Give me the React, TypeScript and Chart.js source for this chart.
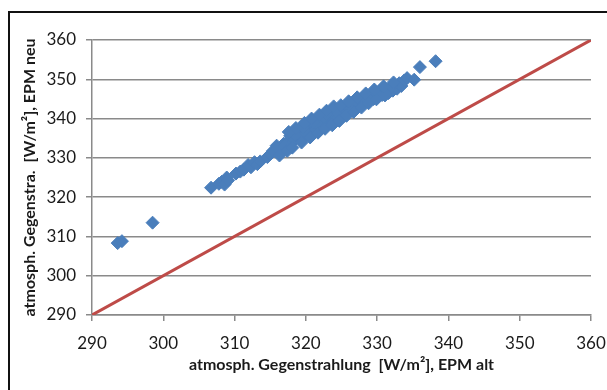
import React, { useEffect, useRef } from "react";
import { Chart, registerables } from "chart.js";

Chart.register(...registerables);

// EPM alt (x) and EPM neu (y) – atmospheric counter radiation [W/m²]
const epmAlt: number[] = [
  293.6, 294.2, 298.5,
  306.7, 307.8, 308.2, 308.6, 308.9, 309.1,
  310.2, 310.8, 311.3, 311.9, 312.3, 312.8, 313.2, 313.6,
  314.6, 315.0, 315.4, 315.9, 316.2, 316.5, 316.9, 317.2, 317.5, 317.8,
  318.0, 318.2, 318.4, 318.7, 318.9, 319.1, 319.3, 319.5, 319.7, 319.9,
  320.1, 320.3, 320.5, 320.7, 320.9, 321.0, 321.2, 321.4, 321.6, 321.8,
  322.0, 322.2, 322.4, 322.6, 322.8, 323.0, 323.2, 323.4, 323.6, 323.8,
  324.0, 324.2, 324.4, 324.6, 324.8, 325.0, 325.3, 325.6, 325.9, 326.2,
  326.5, 326.8, 327.1, 327.4, 327.7, 328.0, 328.3, 328.6, 328.9, 329.2,
  329.5, 329.8, 330.1, 330.4, 330.7, 331.0, 331.3, 331.6, 331.9, 332.2,
  332.5, 332.8, 333.1, 333.4, 333.8, 334.2, 335.2, 336.0, 338.2,
  316.0, 317.0, 318.5, 319.0, 320.0, 321.5, 322.5, 323.5, 324.5, 325.5,
  326.0, 327.0, 328.0, 329.0, 330.0, 331.5, 332.0, 319.6, 321.1, 322.9,
  316.3, 317.4, 318.1, 319.4, 320.6, 321.7, 322.7, 323.7, 324.7, 325.7,
  326.7, 327.8, 328.8, 329.9, 331.1,
  317.6, 318.6, 319.8, 320.8, 321.9, 322.9, 323.9, 324.9, 326.0, 327.2,
  328.4, 329.6, 330.9, 332.3,
];

const epmNeu: number[] = [
  308.3, 308.8, 313.5,
  322.4, 323.4, 323.9, 323.2, 325.0, 324.3,
  326.0, 326.5, 327.0, 328.2, 327.6, 328.9, 328.4, 329.1,
  330.2, 330.9, 331.8, 333.1, 332.0, 331.4, 333.6, 332.7, 334.2, 335.6,
  333.8, 336.3, 334.6, 335.1, 336.8, 334.9, 335.8, 337.2, 336.1, 335.4,
  337.6, 336.6, 338.4, 337.0, 339.1, 336.3, 338.0, 337.3, 339.4, 338.5,
  337.7, 340.1, 338.9, 339.6, 338.2, 340.8, 339.3, 341.4, 340.0, 338.9,
  342.4, 340.6, 341.8, 340.3, 342.0, 341.2, 342.7, 343.3, 341.9, 343.8,
  342.6, 344.2, 343.1, 344.6, 343.7, 345.2, 344.1, 345.6, 344.6, 346.1,
  345.0, 346.6, 345.5, 347.0, 346.0, 346.7, 347.4, 346.5, 347.9, 347.1,
  348.5, 347.6, 349.0, 348.3, 349.7, 350.3, 349.9, 353.1, 354.6,
  332.4, 333.2, 335.9, 336.0, 336.4, 338.9, 340.4, 341.9, 341.5, 342.2,
  342.9, 343.6, 344.0, 345.4, 346.3, 347.2, 348.1, 337.9, 339.0, 341.0,
  330.6, 331.8, 332.6, 333.9, 335.2, 336.4, 337.4, 338.3, 339.4, 340.7,
  341.7, 342.8, 343.9, 344.9, 345.9,
  336.6, 337.6, 338.9, 340.0, 341.0, 342.0, 343.1, 343.4, 344.4, 345.4,
  346.4, 347.4, 348.2, 349.2,
];

// 1:1 reference line
const lineX: number[] = [290, 360];
const lineY: number[] = [290, 360];

const axisMin = 290;
const axisMax = 360;
const axisStep = 10;

const xTitle = "atmosph. Gegenstrahlung  [W/m²], EPM alt";
const yTitle = "atmosph. Gegenstra.  [W/m²], EPM neu";

export default function App() {
  const ref = useRef<HTMLCanvasElement | null>(null);

  useEffect(() => {
    if (!ref.current) return;
    const font = "Lato, 'Open Sans', sans-serif";
    const chart = new Chart(ref.current, {
      type: "scatter",
      data: {
        datasets: [
          {
            type: "scatter",
            label: "EPM",
            data: epmAlt.map((x, i) => ({ x, y: epmNeu[i] })),
            pointStyle: "rectRot",
            pointRadius: 6.5,
            backgroundColor: "#4A7EBB",
            borderColor: "#4A7EBB",
            borderWidth: 1,
            order: 2,
          },
          {
            type: "line",
            label: "1:1",
            data: lineX.map((x, i) => ({ x, y: lineY[i] })),
            borderColor: "#BE4B48",
            borderWidth: 3,
            pointRadius: 0,
            showLine: true,
            fill: false,
            order: 1,
          },
        ],
      },
      options: {
        animation: false,
        responsive: false,
        maintainAspectRatio: false,
        layout: { padding: { left: 0, right: 16, top: 40, bottom: 0 } },
        plugins: { legend: { display: false }, tooltip: { enabled: false } },
        scales: {
          x: {
            type: "linear",
            min: axisMin,
            max: axisMax,
            afterFit: (s: any) => {
              s.height = 75;
              s.paddingLeft = 0;
              s.paddingRight = 0;
            },
            ticks: {
              stepSize: axisStep,
              color: "#1a1a1a",
              font: { family: font, size: 17 },
              padding: 12,
            },
            grid: {
              drawOnChartArea: false,
              drawTicks: true,
              tickLength: 6,
              color: "#8a8a8a",
              lineWidth: 1.5,
            },
            border: { color: "#8a8a8a", width: 1.5 },
            title: {
              display: true,
              text: xTitle,
              color: "#1a1a1a",
              font: { family: font, size: 16, weight: "bold" },
              padding: { top: 0, bottom: 16 },
            },
          },
          y: {
            type: "linear",
            min: axisMin,
            max: axisMax,
            afterFit: (s: any) => {
              s.width = 92;
              s.paddingTop = 0;
              s.paddingBottom = 0;
            },
            ticks: {
              stepSize: axisStep,
              color: "#1a1a1a",
              font: { family: font, size: 17 },
              padding: 10,
            },
            grid: {
              drawOnChartArea: true,
              drawTicks: true,
              tickLength: 6,
              color: "#8a8a8a",
              lineWidth: 1.5,
            },
            border: { color: "#8a8a8a", width: 1.5 },
            title: {
              display: true,
              text: yTitle,
              color: "#1a1a1a",
              font: { family: font, size: 16, weight: "bold" },
              padding: { top: 20, bottom: 0 },
            },
          },
        },
      },
    });
    return () => chart.destroy();
  }, []);

  return (
    <div
      style={{
        position: "fixed",
        left: 0,
        top: 0,
        width: 607,
        height: 390,
        overflow: "hidden",
        background: "#ffffff",
      }}
    >
      <div
        style={{
          position: "absolute",
          left: 8,
          top: 11,
          width: 700,
          height: 500,
          border: "2px solid #111",
        }}
      />
      <canvas
        ref={ref}
        width={607}
        height={390}
        style={{ position: "absolute", left: 0, top: 0, width: 607, height: 390 }}
      />
    </div>
  );
}
